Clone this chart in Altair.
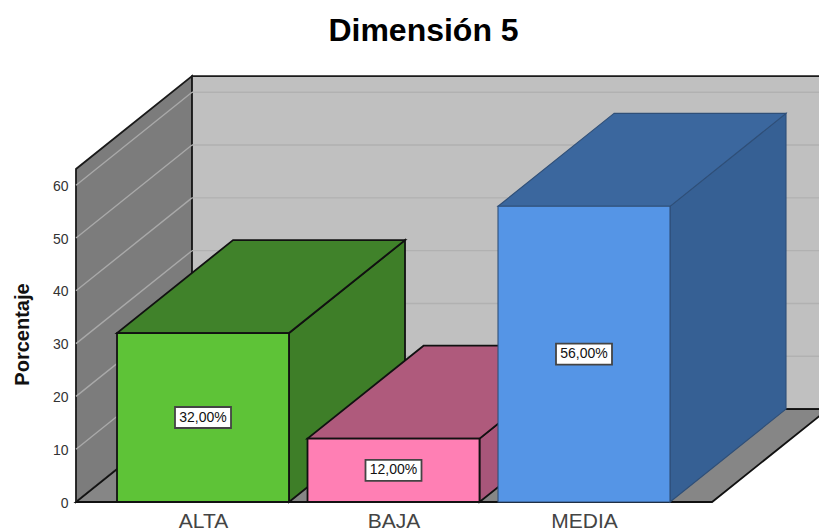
import altair as alt
import pandas as pd

categories = ["ALTA", "BAJA", "MEDIA"]
percentages = [32, 12, 56]
front_colors = ["#5ec337", "#ff7fb4", "#5595e6"]
top_colors = ["#40822a", "#af5a7c", "#3b679e"]
side_colors = ["#3e7e28", "#a8567a", "#366094"]
edge_colors = ["#111111", "#111111", "#2f4f78"]
edge_widths = [1.8, 1.8, 1.1]
grid_levels = [10, 20, 30, 40, 50, 60]
y_title = "Porcentaje"

# Box projection, in axis units
DEPTH_X = 0.609
DEPTH_Y = 17.6
BAR_HALF = 0.4514
WALL_TOP = 63.07
FLOOR_END = 3.339

X_SCALE = alt.Scale(domain=[0, 743 / 190.5], nice=False, zero=False)
Y_SCALE = alt.Scale(domain=[0, 442 / 5.28], nice=False, zero=False)


def x_enc():
    return alt.X("x:Q", scale=X_SCALE, title=None)


def y_enc():
    return alt.Y("y:Q", scale=Y_SCALE, title=y_title)


def vertical_face(x0, y0a, y0b, x1, y1a, y1b, fill, stroke, width=1.8):
    """Face whose left and right edges are vertical."""
    df = pd.DataFrame({"x": [x0, x1], "y": [y0a, y1a], "y2": [y0b, y1b]})
    return alt.Chart(df).mark_area(fill=fill, stroke=stroke, strokeWidth=width, opacity=1).encode(
        x=x_enc(), y=y_enc(), y2="y2:Q"
    )


def flat_face(y0, x0a, x0b, y1, x1a, x1b, fill, stroke, width=1.8):
    """Face whose lower and upper edges are horizontal."""
    df = pd.DataFrame({"y": [y0, y1], "x": [x0a, x1a], "x2": [x0b, x1b]})
    return alt.Chart(df).mark_area(
        orient="horizontal", fill=fill, stroke=stroke, strokeWidth=width, opacity=1
    ).encode(x=x_enc(), x2="x2:Q", y=y_enc())


# The bottom layer carries both axes
label_expr = "['ALTA','BAJA','MEDIA'][round(datum.value - 2/3)]"
axis_data = pd.DataFrame({"x": [0.0], "y": [0.0]})
layers = [
    alt.Chart(axis_data).mark_point(opacity=0).encode(
        x=alt.X("x:Q", scale=X_SCALE, title=None, axis=alt.Axis(
            values=[2 / 3 + i for i in range(len(categories))],
            labelExpr=label_expr, domain=False, ticks=False, grid=False,
            labelFont="Liberation Sans", labelFontSize=21, labelColor="#444444",
            labelPadding=8, labelFlush=False,
        )),
        y=alt.Y("y:Q", scale=Y_SCALE, title=y_title, axis=alt.Axis(
            values=[0] + grid_levels, domain=False, ticks=False, grid=False,
            labelFont="Liberation Sans", labelFontSize=14, labelColor="#333333",
            labelPadding=8, labelOffset=1,
            titleFont="Liberation Sans", titleFontSize=20, titleFontWeight="bold",
            titleColor="#111111", titleAnchor="middle", titleX=-44, titleY=274,
            titleAngle=270, titleBaseline="bottom",
        )),
    )
]

# Walls and floor
back_right = FLOOR_END + DEPTH_X
layers += [
    vertical_face(0, 0, WALL_TOP, DEPTH_X, DEPTH_Y, WALL_TOP + DEPTH_Y, "#7c7c7c", "#1a1a1a"),
    vertical_face(DEPTH_X, DEPTH_Y, WALL_TOP + DEPTH_Y, back_right, DEPTH_Y, WALL_TOP + DEPTH_Y,
                  "#c0c0c0", "#1a1a1a"),
]

# Grid lines running along both walls
wall_grid = pd.DataFrame(
    [{"k": k, "x": 0, "y": k} for k in [0] + grid_levels]
    + [{"k": k, "x": DEPTH_X, "y": k + DEPTH_Y} for k in [0] + grid_levels]
)
back_grid = pd.DataFrame(
    [{"k": k, "x": DEPTH_X, "y": k + DEPTH_Y} for k in grid_levels]
    + [{"k": k, "x": back_right, "y": k + DEPTH_Y} for k in grid_levels]
)
layers.append(
    alt.Chart(wall_grid).mark_line(color="#a9a9a9", strokeWidth=1.4).encode(
        x=x_enc(), y=y_enc(), detail="k:N"
    )
)
layers.append(
    alt.Chart(back_grid).mark_line(color="#b1b1b1", strokeWidth=1.4).encode(
        x=x_enc(), y=y_enc(), detail="k:N"
    )
)
layers.append(
    flat_face(0, 0, FLOOR_END, DEPTH_Y, DEPTH_X, back_right, "#868686", "#111111")
)

# Bars, painted from left to right so each one overlaps the previous
for i, value in enumerate(percentages):
    center = 2 / 3 + i
    left, right = center - BAR_HALF, center + BAR_HALF
    edge = edge_colors[i]
    width = edge_widths[i]
    layers.append(
        vertical_face(right, 0, value, right + DEPTH_X, DEPTH_Y, value + DEPTH_Y,
                      side_colors[i], edge, width)
    )
    layers.append(
        flat_face(value, left, right, value + DEPTH_Y, left + DEPTH_X, right + DEPTH_X,
                  top_colors[i], edge, width)
    )
    layers.append(
        vertical_face(left, 0, value, right, 0, value, front_colors[i], edge, width)
    )

# Value labels in white boxes at mid height of each bar
labels = pd.DataFrame({
    "x": [2 / 3 + i for i in range(len(percentages))],
    "y": [v / 2 for v in percentages],
    "text": [f"{v:.2f}".replace(".", ",") + "%" for v in percentages],
})
layers.append(
    alt.Chart(labels).mark_rect(
        width=56, height=21, fill="white", stroke="#444444", strokeWidth=1.8
    ).encode(x=x_enc(), y=y_enc())
)
layers.append(
    alt.Chart(labels).mark_text(
        font="Liberation Sans", fontSize=14, color="#111111", align="center", baseline="middle"
    ).encode(x=x_enc(), y=y_enc(), text="text:N")
)

chart = alt.layer(*layers).properties(
    width=743,
    height=442,
    padding={"left": 76, "top": 60, "right": 0, "bottom": 30},
    autosize=alt.AutoSizeParams(type="none"),
    background="white",
    title=alt.TitleParams(
        "Dimensión 5", font="Liberation Sans", fontSize=32, fontWeight="bold",
        color="#000000", anchor="middle", dx=-24, offset=12,
    ),
).configure_view(stroke=None)

chart.save("out.html", embed_options={"renderer": "svg", "actions": False})
